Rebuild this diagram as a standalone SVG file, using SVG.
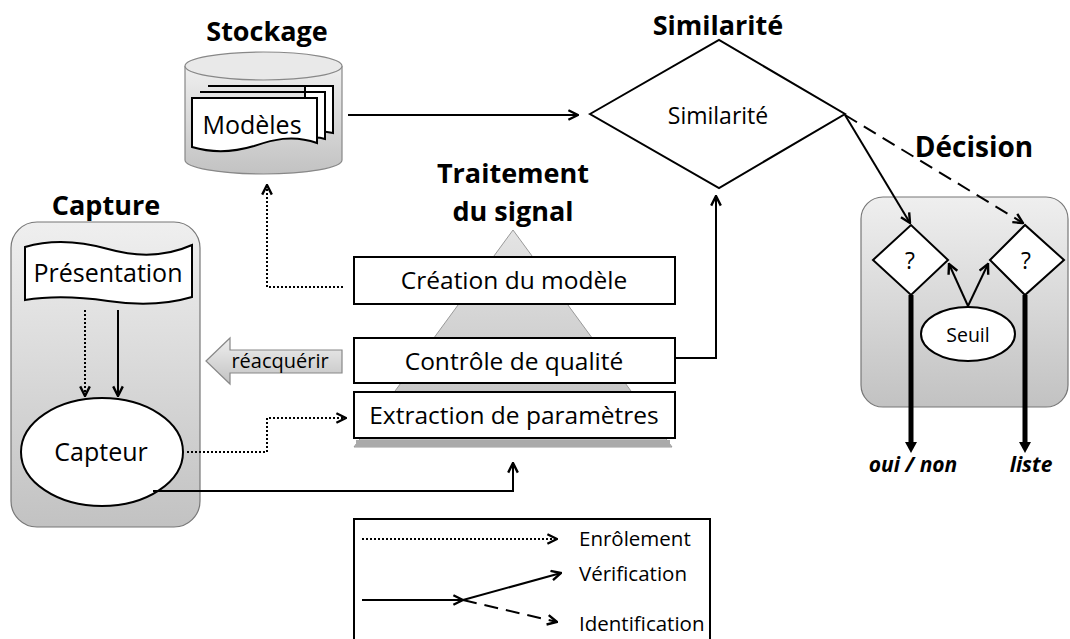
<svg xmlns="http://www.w3.org/2000/svg" width="1070" height="639" viewBox="0 0 1070 639">
<style>
.t{font-family:"Open Sans","Liberation Sans",sans-serif;fill:#000;text-anchor:middle}
.s{font-family:"Open Sans","Liberation Sans",sans-serif;fill:#000;text-anchor:start}
.b{font-family:"Open Sans","Liberation Sans",sans-serif;font-weight:bold;fill:#000;text-anchor:middle}
.box{fill:#fff;stroke:#000;stroke-width:2}
.ln{fill:none;stroke:#000;stroke-width:2}
.dot{fill:none;stroke:#000;stroke-width:2;stroke-dasharray:2 2}
.dash{fill:none;stroke:#000;stroke-width:2;stroke-dasharray:14 8}
.thick{fill:none;stroke:#000;stroke-width:5}
.panel{stroke:#777;stroke-width:1.2}
</style>
<defs>
<linearGradient id="g" x1="0" y1="0" x2="0" y2="1">
<stop offset="0" stop-color="#efefef"/><stop offset="1" stop-color="#c2c2c2"/>
</linearGradient>
<linearGradient id="gp" x1="0" y1="0" x2="0" y2="1">
<stop offset="0" stop-color="#e4e4e4"/><stop offset="1" stop-color="#bdbdbd"/>
</linearGradient>
<marker id="a" viewBox="0 0 10 10" refX="9" refY="5" markerWidth="12" markerHeight="12" markerUnits="userSpaceOnUse" orient="auto">
<path d="M1,1 L9,5 L1,9" fill="none" stroke="#000" stroke-width="2"/>
</marker>
</defs>
<rect width="1070" height="639" fill="#fff"/>

<g id="stockage">
<text class="b" x="267" y="41" font-size="27">Stockage</text>
<path d="M185,66 V160 A78.5,14 0 0 0 342,160 V66" fill="url(#g)" stroke="#888" stroke-width="1.2"/>
<ellipse cx="263.5" cy="66" rx="78.5" ry="14" fill="#e9e9e9" stroke="#888" stroke-width="1.2"/>
<path d="M208,86 H333 V133 C 320,130 312,131 305,133 V86 Z" fill="#fff" stroke="#000" stroke-width="2"/>
<path d="M200,92 H325 V139 C 318,137 312,137 305,139 V92 Z" fill="#fff" stroke="#000" stroke-width="2"/>
<path d="M192,98 H317 V143 C 292,134 272,140 254,146 C 234,152 212,153 192,147 Z" fill="#fff" stroke="#000" stroke-width="2"/>
<text class="t" x="252" y="134" font-size="25">Modèles</text>
</g>

<g id="capture">
<text class="b" x="106" y="215" font-size="27">Capture</text>
<rect class="panel" x="11" y="222" width="189" height="305" rx="26" fill="url(#g)"/>
<path d="M25,247 Q62,236 108,249 T192,245 V297 Q155,308 108,301 T25,300 Z" fill="#fff" stroke="#000" stroke-width="2"/>
<text class="t" x="108" y="282" font-size="25">Présentation</text>
<ellipse cx="102" cy="452" rx="81" ry="54" fill="#fff" stroke="#000" stroke-width="2"/>
<text class="t" x="101" y="461" font-size="25">Capteur</text>
</g>

<g id="traitement">
<text class="b" x="513" y="183" font-size="27">Traitement</text>
<text class="b" x="513" y="221" font-size="27">du signal</text>
<polygon points="513,230 354,447 672,447" fill="url(#gp)" stroke="#999" stroke-width="1"/>
<rect x="356" y="440" width="314" height="7" fill="#aaa"/>
</g>
<g id="creation">
<rect class="box" x="354" y="257" width="321" height="47"/>
<text class="t" x="514" y="289" font-size="24.5">Création du modèle</text>
</g>
<g id="controle">
<rect class="box" x="354" y="338" width="321" height="45"/>
<text class="t" x="514" y="370" font-size="24.5">Contrôle de qualité</text>
</g>
<g id="extraction">
<rect class="box" x="354" y="392" width="321" height="46"/>
<text class="t" x="514" y="424" font-size="24.5">Extraction de paramètres</text>
</g>
<g id="reacquerir">
<polygon points="206,361 230,338 230,350 342,350 342,373 230,373 230,384" fill="url(#g)" stroke="#888" stroke-width="1.2"/>
<text class="t" x="280" y="368" font-size="20">réacquérir</text>
</g>

<g id="similarite">
<text class="b" x="718" y="35" font-size="27">Similarité</text>
<polygon points="590,114 719,40 845,114 719,188" fill="#fff" stroke="#000" stroke-width="2"/>
<text class="t" x="718" y="124" font-size="23">Similarité</text>
</g>

<g id="decision">
<text class="b" x="974" y="157" font-size="28">Décision</text>
<rect class="panel" x="861" y="197" width="207" height="210" rx="22" fill="url(#g)"/>
</g>
<g id="q1">
<polygon points="873,260 911,225 948,260 911,295" fill="#fff" stroke="#000" stroke-width="2"/>
<text class="t" x="910" y="269" font-size="23">?</text>
</g>
<g id="q2">
<polygon points="990,260 1025,225 1064,260 1025,295" fill="#fff" stroke="#000" stroke-width="2"/>
<text class="t" x="1026" y="269" font-size="23">?</text>
</g>
<g id="seuil">
<ellipse cx="968" cy="334" rx="47" ry="27" fill="#fff" stroke="#000" stroke-width="2"/>
<text class="t" x="968" y="342" font-size="19.5">Seuil</text>
</g>
<g id="sorties">
<text class="b" x="913" y="472" font-size="21" font-style="italic">oui / non</text>
<text class="b" x="1031" y="472" font-size="21" font-style="italic">liste</text>
</g>

<g id="connectors">
<line class="ln" x1="348" y1="115" x2="578" y2="115" marker-end="url(#a)"/>
<polyline class="ln" points="675,358 716,358 716,196" marker-end="url(#a)"/>
<line class="ln" x1="845" y1="115" x2="910" y2="223" marker-end="url(#a)"/>
<line class="dash" x1="845" y1="115" x2="1023" y2="223" marker-end="url(#a)"/>
<line class="ln" x1="968" y1="306" x2="949" y2="264" marker-end="url(#a)"/>
<line class="ln" x1="968" y1="306" x2="988" y2="264" marker-end="url(#a)"/>
<line class="thick" x1="911" y1="295" x2="911" y2="444"/>
<polygon points="905,442 917,442 911,453" fill="#000"/>
<line class="thick" x1="1025" y1="295" x2="1025" y2="444"/>
<polygon points="1019,442 1031,442 1025,453" fill="#000"/>
<line class="dot" x1="85" y1="310" x2="85" y2="396" marker-end="url(#a)"/>
<line class="ln" x1="118" y1="310" x2="118" y2="396" marker-end="url(#a)"/>
<polyline class="dot" points="187,452 267,452 267,418 346,418" marker-end="url(#a)"/>
<polyline class="ln" points="153,491 513,491 513,463" marker-end="url(#a)"/>
<polyline class="dot" points="343,287 267,287 267,185" marker-end="url(#a)"/>
</g>

<g id="legende">
<rect x="354" y="519" width="356" height="130" fill="#fff" stroke="#000" stroke-width="2"/>
<line class="dot" x1="362" y1="539" x2="557" y2="539" marker-end="url(#a)"/>
<line class="ln" x1="362" y1="600" x2="463" y2="600" marker-end="url(#a)"/>
<line class="ln" x1="463" y1="600" x2="561" y2="573" marker-end="url(#a)"/>
<line class="dash" x1="463" y1="600" x2="557" y2="622" marker-end="url(#a)"/>
<text class="s" x="579" y="546" font-size="20.5">Enrôlement</text>
<text class="s" x="579" y="581" font-size="20.5">Vérification</text>
<text class="s" x="579" y="631" font-size="20.5">Identification</text>
</g>
</svg>
